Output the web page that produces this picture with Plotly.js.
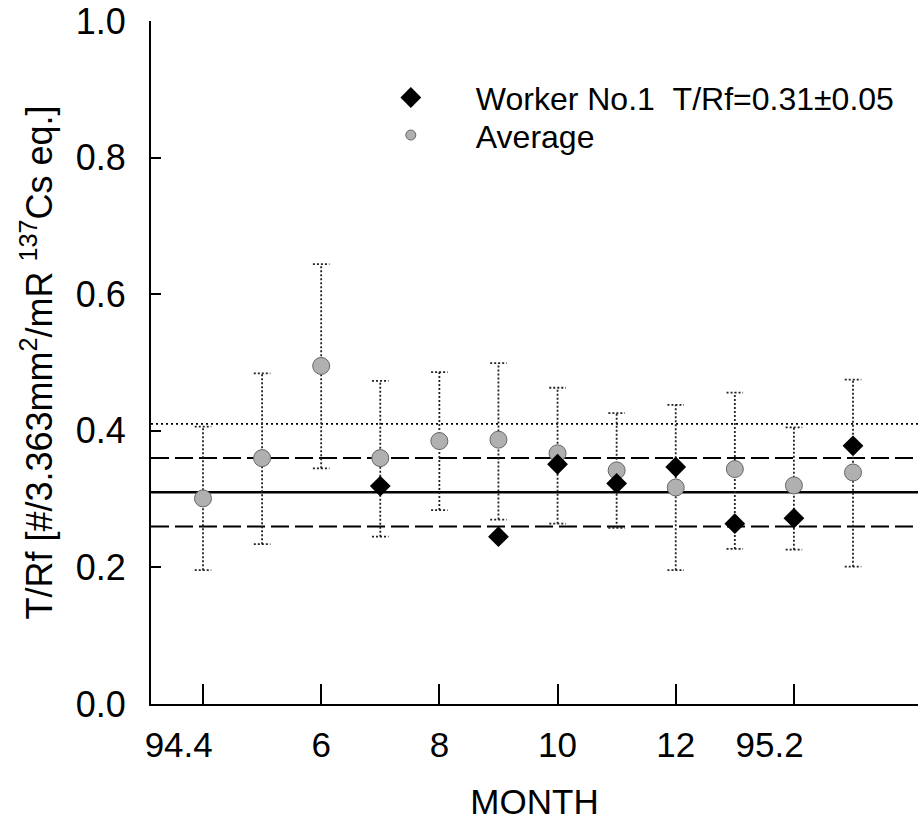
<!DOCTYPE html>
<html><head><meta charset="utf-8">
<script src="https://cdn.plot.ly/plotly-3.0.1.min.js"></script>
<style>html,body{margin:0;padding:0;background:#fff}#chart{width:919px;height:837px}</style>
</head><body><div id="chart"></div>
<script>
// ---- data ----
const monthPos = [4,5,6,7,8,9,10,11,12,13,14,15];
const avgValues = [0.301,0.360,0.495,0.360,0.385,0.387,0.367,0.342,0.317,0.344,0.320,0.339];
const avgErrPlus = [0.105,0.124,0.149,0.113,0.101,0.112,0.096,0.084,0.121,0.112,0.085,0.136];
const avgErrMinus = [0.105,0.126,0.150,0.115,0.101,0.117,0.103,0.084,0.121,0.117,0.094,0.138];
const workerPos = [7,9,10,11,12,13,14,15];
const workerValues = [0.319,0.245,0.351,0.323,0.347,0.264,0.272,0.378];
const tickPos = [4,6,8,10,12,14];
const tickLabels = ["94.4","6","8","10","12","95.2"];
const yTickVals = [0,0.2,0.4,0.6,0.8,1.0];
const yTickText = ["0.0","0.2","0.4","0.6","0.8","1.0"];
const workerMean = 0.31;
const workerSd = 0.05;
const refLevels = [0.41, 0.36, 0.31, 0.26];

// ---- styles ----
const refDash = ['2px,3px','18px,6px','solid','18px,6px'];
const refWidth = [1.8, 2, 2.5, 2];
const FONT = 'Liberation Sans, Arial, Helvetica, sans-serif';
const capHalf = 0.14;

// year labels: last digit sits on the tick (pad right with no-break spaces)
const tickText = tickLabels.map(t => t.includes('.') ? t + '\u00a0'.repeat(5) : t);

// error bars as dotted line trace
const ex = [], ey = [];
monthPos.forEach((x, i) => {
  const hi = avgValues[i] + avgErrPlus[i];
  const lo = avgValues[i] - avgErrMinus[i];
  ex.push(x, x, null, x - capHalf, x + capHalf, null, x - capHalf, x + capHalf, null);
  ey.push(lo, hi, null, hi, hi, null, lo, lo, null);
});

const traces = [
  {x: ex, y: ey, mode: 'lines', line: {color: '#222', width: 1.8, dash: '2px,2px'},
   showlegend: false, hoverinfo: 'skip'},
  {x: monthPos, y: avgValues, mode: 'markers', showlegend: false,
   marker: {symbol: 'circle', size: 17, color: '#b0b0b0', line: {color: '#666', width: 1}}},
  {x: workerPos, y: workerValues, mode: 'markers', showlegend: false,
   marker: {symbol: 'diamond', size: 16, color: '#000'}},
  // legend entries
  {x: [null], y: [null], mode: 'markers', legend: 'legend',
   name: 'Worker No.1\u00a0\u00a0T/Rf=' + workerMean.toFixed(2) + '±' + workerSd.toFixed(2),
   marker: {symbol: 'diamond', size: 16, color: '#000'}},
  {x: [null], y: [null], mode: 'markers', name: 'Average', legend: 'legend2',
   marker: {symbol: 'circle', size: 10, color: '#b0b0b0', line: {color: '#666', width: 1}}}
];

const shapes = refLevels.map((v, i) => ({
  type: 'line', xref: 'paper', x0: 0, x1: 1, yref: 'y', y0: v, y1: v, layer: 'below',
  line: {color: '#000', width: refWidth[i], dash: refDash[i]}
}));

const legendCommon = {
  xanchor: 'left', yanchor: 'top', itemwidth: 120,
  font: {size: 32, family: FONT}, bgcolor: 'rgba(0,0,0,0)'
};

const layout = {
  width: 919, height: 837,
  margin: {l: 151, r: 1, t: 21, b: 133},
  paper_bgcolor: '#fff', plot_bgcolor: '#fff',
  font: {family: FONT, color: '#000'},
  shapes: shapes,
  xaxis: {
    range: [3.12, 16.1], showgrid: false, zeroline: false,
    showline: true, linecolor: '#000', linewidth: 2,
    ticks: 'inside', ticklen: 20, tickwidth: 2, tickcolor: '#000',
    tickvals: tickPos, ticktext: tickText,
    tickfont: {size: 35, family: FONT}, ticklabelstandoff: 9,
    title: {text: 'MONTH', font: {size: 35, family: FONT}, standoff: 26}
  },
  yaxis: {
    range: [0, 1], showgrid: false, zeroline: false,
    showline: true, linecolor: '#000', linewidth: 2,
    ticks: 'inside', ticklen: 10, tickwidth: 2, tickcolor: '#000',
    tickvals: yTickVals, ticktext: yTickText,
    tickfont: {size: 36, family: FONT}, ticklabelstandoff: 16,
    title: {text: 'T/Rf [#/3.363mm<sup>2</sup>/mR <sup>137</sup>Cs eq.]', font: {size: 36, family: FONT}, standoff: 12}
  },
  legend: Object.assign({x: 0.254, y: 0.928}, legendCommon),
  legend2: Object.assign({x: 0.254, y: 0.873}, legendCommon)
};

Plotly.newPlot('chart', traces, layout, {displayModeBar: false, staticPlot: true});
</script>
</body></html>
